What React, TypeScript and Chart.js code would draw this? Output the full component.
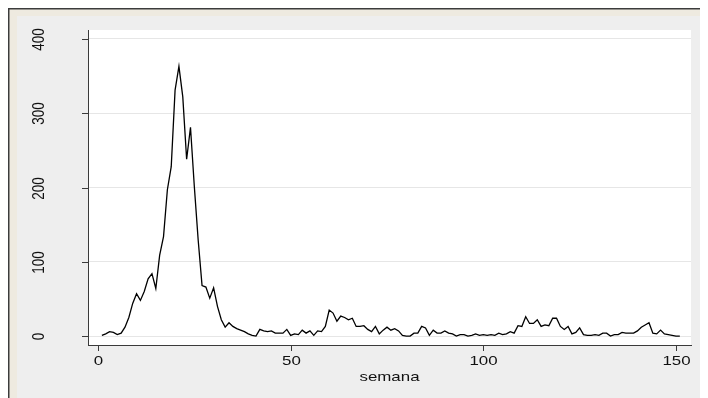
import React, { useEffect, useRef } from "react";
import { Chart, registerables } from "chart.js";

Chart.register(...registerables);

// Casos por semana epidemiológica (semana 1 a 151)
const casos: number[] = [
  1, 3, 6, 5, 2, 4, 12, 25, 44, 57,
  48, 60, 77, 84, 64, 109, 134, 197, 228, 331,
  363, 322, 238, 281, 201, 129, 68, 66, 51, 65,
  40, 22, 12, 18, 13, 10, 8, 6, 3, 1,
  0, 9, 7, 6, 7, 4, 4, 4, 9, 1,
  3, 2, 8, 4, 7, 1, 7, 6, 13, 35,
  31, 20, 27, 25, 22, 24, 13, 13, 14, 9,
  6, 13, 3, 8, 12, 8, 10, 7, 1, 0,
  0, 4, 4, 13, 11, 1, 8, 4, 4, 7,
  4, 3, 0, 2, 2, 0, 1, 3, 1, 2,
  1, 2, 1, 4, 2, 3, 6, 4, 14, 13,
  26, 17, 17, 22, 13, 15, 14, 24, 24, 13,
  9, 13, 3, 5, 11, 2, 1, 1, 2, 1,
  4, 4, 0, 2, 2, 5, 4, 4, 4, 7,
  12, 15, 18, 4, 3, 8, 3, 2, 1, 0,
  0,
];
const primeraSemana = 1;
const semanas: number[] = casos.map((_, i) => primeraSemana + i);

const yTicks: number[] = [0, 100, 200, 300, 400];
const xTicks: number[] = [0, 50, 100, 150];
const tituloX = "semana";

const FONT = '13.5px "Liberation Sans", Arial, sans-serif';
const STRETCH = 1.25;
const INK = "#111111";
const AXIS = "#3a3a3a";

// Stata-like frame: dark edge, beige strip, grey panel, white plot region
const framePlugin = {
  id: "frame",
  beforeDraw(chart: Chart) {
    const { ctx, width, height, chartArea } = chart;
    ctx.save();
    ctx.fillStyle = "#eeeae0";
    ctx.fillRect(0, 0, width, height);
    ctx.fillStyle = "#eeeeee";
    ctx.fillRect(9, 8, width - 9, height - 8);
    ctx.fillStyle = "#3c3c3c";
    ctx.fillRect(0, 0, width, 1.5);
    ctx.fillRect(0, 0, 1.5, height);
    ctx.fillStyle = "#ffffff";
    ctx.fillRect(
      chartArea.left,
      chartArea.top,
      chartArea.right - chartArea.left,
      chartArea.bottom - chartArea.top
    );
    ctx.restore();
  },
  afterDraw(chart: Chart) {
    const { ctx, chartArea } = chart;
    const xs = chart.scales.x;
    const ys = chart.scales.y;
    ctx.save();
    ctx.strokeStyle = AXIS;
    ctx.lineWidth = 1;
    ctx.fillStyle = INK;
    ctx.font = FONT;

    // y ticks and rotated labels
    yTicks.forEach((v) => {
      const py = Math.round(ys.getPixelForValue(v)) + 0.5;
      ctx.beginPath();
      ctx.moveTo(chartArea.left - 6, py);
      ctx.lineTo(chartArea.left, py);
      ctx.stroke();
      ctx.save();
      ctx.translate(31, py);
      ctx.scale(STRETCH, 1);
      ctx.rotate(-Math.PI / 2);
      ctx.textAlign = "center";
      ctx.textBaseline = "middle";
      ctx.fillText(String(v), 0, 0);
      ctx.restore();
    });

    // x ticks and labels
    xTicks.forEach((v) => {
      const px = Math.round(xs.getPixelForValue(v)) + 0.5;
      ctx.beginPath();
      ctx.moveTo(px, chartArea.bottom);
      ctx.lineTo(px, chartArea.bottom + 6);
      ctx.stroke();
      ctx.save();
      ctx.translate(px, chartArea.bottom + 16);
      ctx.scale(STRETCH, 1);
      ctx.textAlign = "center";
      ctx.textBaseline = "middle";
      ctx.fillText(String(v), 0, 0);
      ctx.restore();
    });

    // axis title
    ctx.save();
    ctx.translate((chartArea.left + chartArea.right) / 2, chartArea.bottom + 32);
    ctx.scale(STRETCH, 1);
    ctx.textAlign = "center";
    ctx.textBaseline = "middle";
    ctx.fillText(tituloX, 0, 0);
    ctx.restore();

    ctx.restore();
  },
};

export default function App() {
  const canvasRef = useRef<HTMLCanvasElement | null>(null);

  useEffect(() => {
    const canvas = canvasRef.current;
    if (!canvas) return;
    const chart = new Chart(canvas, {
      type: "line",
      data: {
        datasets: [
          {
            data: semanas.map((s, i) => ({ x: s, y: casos[i] })),
            borderColor: "#000000",
            borderWidth: 1.3,
            pointRadius: 0,
            fill: false,
            tension: 0,
          },
        ],
      },
      options: {
        responsive: false,
        animation: false,
        devicePixelRatio: 1,
        layout: { padding: { left: 80, top: 22, right: 17, bottom: 53 } },
        plugins: {
          legend: { display: false },
          tooltip: { enabled: false },
        },
        scales: {
          x: {
            type: "linear",
            min: -2.6,
            max: 153.9,
            ticks: { display: false },
            grid: { display: false, drawTicks: false },
            border: { display: true, color: AXIS, width: 1 },
          },
          y: {
            type: "linear",
            min: -12,
            max: 412,
            afterBuildTicks: (scale: any) => {
              scale.ticks = yTicks.map((v) => ({ value: v }));
            },
            ticks: { display: false },
            grid: { color: "#e6e6e6", lineWidth: 1, drawTicks: false },
            border: { display: true, color: AXIS, width: 1 },
          },
        },
      },
      plugins: [framePlugin],
    });
    return () => chart.destroy();
  }, []);

  return (
    <canvas
      ref={canvasRef}
      width={700}
      height={390}
      style={{ display: "block", width: 700, height: 390 }}
    />
  );
}
